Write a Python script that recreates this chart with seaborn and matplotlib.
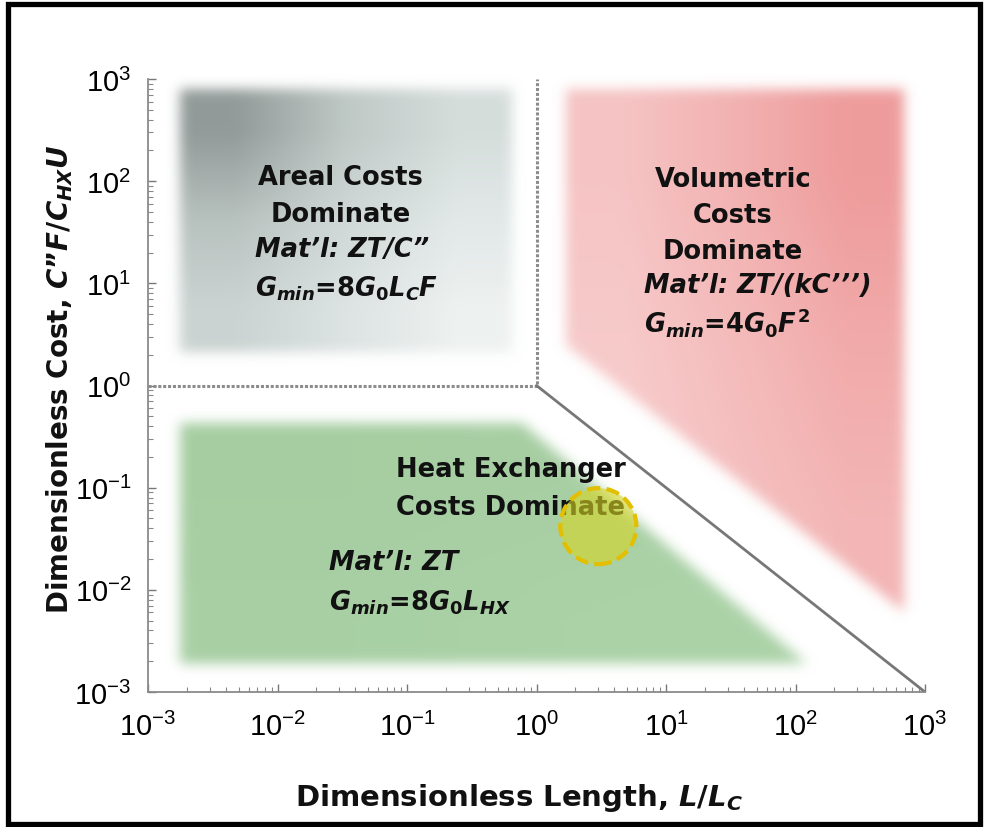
import numpy as np
import matplotlib
matplotlib.use("Agg")
import matplotlib.pyplot as plt
from matplotlib.patches import Polygon, Rectangle
from matplotlib.colors import to_rgb
import seaborn as sns

# ---- data -------------------------------------------------------------
axis_limits = [1e-3, 1e3]
tick_values = [1e-3, 1e-2, 1e-1, 1e0, 1e1, 1e2, 1e3]

# regime boundaries
areal_edge_x = [1e-3, 1.0, 1.0]
areal_edge_y = [1.0, 1.0, 1e3]
exchanger_edge_x = [1.0, 1e3]
exchanger_edge_y = [1.0, 1e-3]

# shaded regimes (polygon vertices in data units)
areal_x = [0.00177, 0.65, 0.65, 0.00177]
areal_y = [800, 800, 2.13, 2.13]
volumetric_x = [1.69, 689, 689, 1.69]
volumetric_y = [800, 800, 0.0061, 2.49]
exchanger_x = [0.00177, 0.77, 122, 0.00177]
exchanger_y = [0.43, 0.43, 0.0019, 0.0019]

# highlighted operating point
point_x = [3.0]
point_y = [0.042]

# shading colour grids (top row first)
areal_shades = [["#929b99", "#bfc9c6", "#d6dedc"],
                ["#b8c2bf", "#d0d9d7", "#e2e9e8"],
                ["#cbd4d2", "#dde4e3", "#eef2f1"]]
volumetric_shades = [["#f6c4c4", "#f3b2b2", "#ef9c9c"],
                     ["#f8cbcb", "#f5bcbc", "#f2abab"],
                     ["#f9d0d0", "#f6c2c2", "#f4b6b6"]]
exchanger_shades = [["#a6cea2", "#a9d0a5"],
                    ["#a9d0a5", "#acd3a8"]]

# ---- style ------------------------------------------------------------
sns.set_style("ticks")
plt.rcParams["font.family"] = ["DejaVu Sans"]
plt.rcParams["mathtext.fontset"] = "custom"
plt.rcParams["mathtext.rm"] = "DejaVu Sans:bold"
plt.rcParams["mathtext.it"] = "DejaVu Sans:italic:bold"
plt.rcParams["mathtext.bf"] = "DejaVu Sans:bold"

fig = plt.figure(figsize=(9.84, 8.28), dpi=100)
ax = fig.add_axes([148 / 984, 1 - 693 / 828, 777 / 984, 613 / 828])
ax.set_xscale("log")
ax.set_yscale("log")
ax.set_xlim(axis_limits)
ax.set_ylim(axis_limits)
ax.set_autoscale_on(False)


def soft_edges(sigma_px):
    r = int(3 * sigma_px)
    k = np.exp(-0.5 * (np.arange(-r, r + 1) / sigma_px) ** 2)
    k /= k.sum()

    def _filter(img, dpi):
        pm = np.pad(img, [(r, r), (r, r), (0, 0)]).astype(float)
        pm[..., :3] *= pm[..., 3:4]
        for axis in (0, 1):
            out = np.zeros_like(pm)
            for i, w in enumerate(k):
                out += w * np.roll(pm, i - r, axis=axis)
            pm = out
        alpha = pm[..., 3:4]
        rgb = pm[..., :3] / np.maximum(alpha, 1e-6)
        res = np.concatenate([np.clip(rgb, 0, 1), np.clip(alpha, 0, 1)], axis=-1)
        return res, -r, -r

    return _filter


to_axes = ax.transData + ax.transAxes.inverted()


def shade(xs, ys, grid, sigma=6):
    poly = Polygon(np.column_stack([xs, ys]), closed=True,
                   transform=ax.transData, facecolor="none", edgecolor="none")
    ax.add_patch(poly)
    (fx0, fy0), (fx1, fy1) = to_axes.transform(
        [[min(xs), min(ys)], [max(xs), max(ys)]])
    rgb = np.array([[to_rgb(c) for c in row] for row in grid])
    im = ax.imshow(rgb, extent=[fx0, fx1, fy0, fy1], transform=ax.transAxes,
                   interpolation="bilinear", aspect="auto", origin="upper",
                   zorder=0.5)
    im.set_clip_path(poly)
    im.set_agg_filter(soft_edges(sigma))


shade(areal_x, areal_y, areal_shades)
shade(volumetric_x, volumetric_y, volumetric_shades)
shade(exchanger_x, exchanger_y, exchanger_shades)
ax.set_xlim(axis_limits)
ax.set_ylim(axis_limits)

# regime boundaries
sns.lineplot(x=areal_edge_x, y=areal_edge_y, ax=ax, color="#8c8c8c",
             linestyle=(0, (1, 0.6)), linewidth=2.2, sort=False,
             estimator=None, zorder=2)
sns.lineplot(x=exchanger_edge_x, y=exchanger_edge_y, ax=ax, color="#777777",
             linewidth=2.0, sort=False, estimator=None, zorder=2)

# region annotations
txt = dict(transform=ax.transAxes, color="#111111", fontsize=18.5,
           fontweight="bold", zorder=3)
mat = dict(transform=ax.transAxes, color="#111111", fontsize=18.5,
           fontweight="bold", fontstyle="italic", zorder=3)

ax.text(0.248, 0.840, "Areal Costs", ha="center", va="center", **txt)
ax.text(0.248, 0.780, "Dominate", ha="center", va="center", **txt)
ax.text(0.138, 0.722, "Mat’l: ZT/C”", ha="left", va="center", **mat)
ax.text(0.138, 0.660, r"$G_{min}$=8$G_0 L_C F$", ha="left", va="center", **txt)

ax.text(0.753, 0.837, "Volumetric", ha="center", va="center", **txt)
ax.text(0.753, 0.778, "Costs", ha="center", va="center", **txt)
ax.text(0.753, 0.719, "Dominate", ha="center", va="center", **txt)
ax.text(0.638, 0.664, "Mat’l: ZT/(kC’’’)", ha="left", va="center", **mat)
ax.text(0.638, 0.605, r"$G_{min}$=4$G_0F^2$", ha="left", va="center", **txt)

ax.text(0.467, 0.364, "Heat Exchanger", ha="center", va="center", **txt)
ax.text(0.467, 0.302, "Costs Dominate", ha="center", va="center", **txt)
ax.text(0.233, 0.212, "Mat’l: ZT", ha="left", va="center", **mat)
ax.text(0.233, 0.147, r"$G_{min}$=8$G_0 L_{HX}$", ha="left", va="center", **txt)

# operating point marker
sns.scatterplot(x=point_x, y=point_y, ax=ax, s=3000, zorder=4, legend=False)
pc = ax.collections[-1]
pc.set_facecolor((0.84, 0.84, 0.14, 0.6))
pc.set_edgecolor("#e2bf00")
pc.set_linewidth(3)
pc.set_linestyle((0, (3.2, 1.5)))

# axes styling
for side in ("top", "right"):
    ax.spines[side].set_visible(False)
for side in ("left", "bottom"):
    ax.spines[side].set_color("#8a8a8a")
    ax.spines[side].set_linewidth(1.3)
ax.set_xticks(tick_values)
ax.set_yticks(tick_values)
ax.tick_params(which="major", direction="in", length=6, width=1.0,
               color="#777777", labelsize=21, labelcolor="black",
               bottom=True, left=True, top=False, right=False)
ax.tick_params(axis="x", which="major", pad=14)
ax.tick_params(axis="y", which="major", pad=12)
ax.tick_params(which="minor", direction="in", length=3.5, width=0.8,
               color="#888888", bottom=True, left=True, top=False, right=False)
for lab in ax.get_xticklabels() + ax.get_yticklabels():
    lab.set_fontfamily(["Liberation Sans", "DejaVu Sans"])

ax.set_xlabel("Dimensionless Length, $L/L_C$", fontsize=21,
              fontweight="bold", color="#111111")
ax.set_ylabel("Dimensionless Cost, $C$”$F/C_{HX}U$", fontsize=20,
              fontweight="bold", color="#111111")
ax.xaxis.set_label_coords(0.478, -0.146)
ax.yaxis.set_label_coords(-0.094, 0.511)

# outer frame
fig.patches.append(Rectangle((8 / 984, 3 / 828), 972 / 984, 820 / 828,
                             transform=fig.transFigure, fill=False,
                             linewidth=3.8, edgecolor="black"))

fig.savefig("out.png", dpi=100)
